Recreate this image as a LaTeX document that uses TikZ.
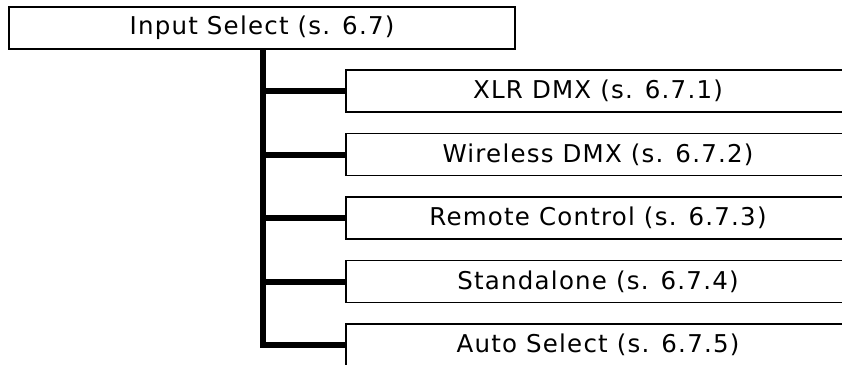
\documentclass[tikz,border=0pt]{standalone}
\usepackage{fontspec}
\setmainfont{DejaVu Sans}[LetterSpace=5]
\begin{document}
\begin{tikzpicture}[x=1pt,y=1pt,
  box/.style={draw=black,line width=1.5pt,fill=white,inner sep=0pt,
    font=\fontsize{24.5}{28}\selectfont,text=black},
  conn/.style={draw=black,line width=6pt}]
\useasboundingbox (0,0) rectangle (842,-364);
\node[box,minimum width=506pt,minimum height=42pt] (top) at (262,-28) {Input Select (s. 6.7)};
\foreach \i/\t in {1/XLR DMX (s. 6.7.1),2/Wireless DMX (s. 6.7.2),3/Remote Control (s. 6.7.3),4/Standalone (s. 6.7.4),5/Auto Select (s. 6.7.5)}{
  \node[box,minimum width=504pt,minimum height=42pt] (c\i) at (598,{-91-63.5*(\i-1)}) {\t};
}
\coordinate (tr) at (263,-49);
\foreach \i in {1,2,3,4}{
  \draw[conn] (tr |- c\i.west) -- (c\i.west);
}
\draw[conn] (tr) |- (c5.west);
\end{tikzpicture}
\end{document}
